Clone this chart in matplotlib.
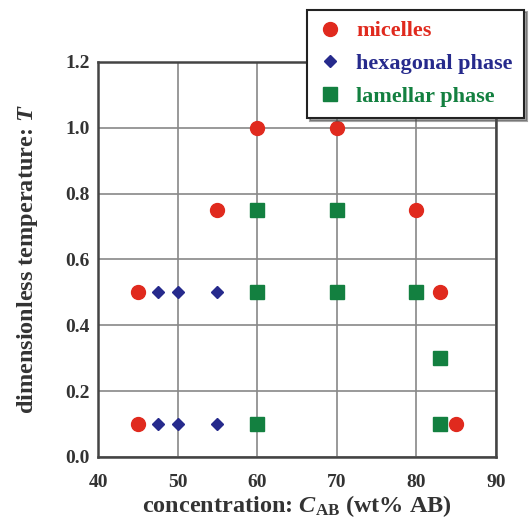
import matplotlib
matplotlib.use("Agg")
import matplotlib.pyplot as plt

# data
mic_c = [60, 70, 55, 80, 45, 83, 45, 85]
mic_t = [1.0, 1.0, 0.75, 0.75, 0.5, 0.5, 0.1, 0.1]

hex_c = [47.5, 50, 55, 47.5, 50, 55]
hex_t = [0.5, 0.5, 0.5, 0.1, 0.1, 0.1]

lam_c = [60, 70, 60, 70, 80, 83, 60, 83]
lam_t = [0.75, 0.75, 0.5, 0.5, 0.5, 0.3, 0.1, 0.1]

xticks = [40, 50, 60, 70, 80, 90]
yticks = [0.0, 0.2, 0.4, 0.6, 0.8, 1.0, 1.2]

plt.rcParams['font.family'] = ['Liberation Serif', 'DejaVu Serif']
plt.rcParams['font.weight'] = 'bold'
plt.rcParams['axes.labelweight'] = 'bold'
plt.rcParams['mathtext.fontset'] = 'custom'
plt.rcParams['mathtext.rm'] = 'Liberation Serif:bold'
plt.rcParams['mathtext.it'] = 'Liberation Serif:italic:bold'

txt = '#333333'
red = '#e02a1e'
blue = '#262a8c'
green = '#138040'

fig = plt.figure(figsize=(5.31, 5.23), dpi=100)
ax = fig.add_axes([0.1846, 0.1262, 0.7495, 0.7553])

ax.plot(mic_c, mic_t, 'o', color=red, markersize=10, label='micelles', zorder=3)
ax.plot(hex_c, hex_t, 'D', color=blue, markersize=6, label='hexagonal phase', zorder=3)
ax.plot(lam_c, lam_t, 's', color=green, markersize=10, label='lamellar phase', zorder=3)

ax.set_xlim(40, 90)
ax.set_ylim(0, 1.2)
ax.set_xticks(xticks)
ax.set_yticks(yticks)
ax.set_xticklabels([str(v) for v in xticks])
ax.set_yticklabels([f'{v:.1f}' for v in yticks])
ax.tick_params(length=0, labelsize=14, labelcolor=txt)
ax.tick_params(axis='x', pad=12)
ax.tick_params(axis='y', pad=6)
ax.grid(True, color='#888888', linewidth=1.2)
ax.set_axisbelow(True)
for s in ax.spines.values():
    s.set_linewidth(1.8)
    s.set_color('#444444')

ax.set_xlabel(r'concentration: $\mathit{C}_{\mathrm{AB}}$ (wt% AB)', fontsize=17.5, color=txt, labelpad=2)
ax.set_ylabel(r'dimensionless temperature: $\mathit{T}$', fontsize=17.5, color=txt, labelpad=18)

leg = fig.legend(loc='upper right', bbox_to_anchor=(0.995, 0.99), fontsize=16,
                 frameon=True, fancybox=False, shadow=True, borderpad=0.5,
                 labelspacing=0.55, handletextpad=0.7, handlelength=1.0,
                 borderaxespad=0.2)
leg.get_frame().set_edgecolor('#222222')
leg.get_frame().set_linewidth(1.5)
for t, c in zip(leg.get_texts(), [red, blue, green]):
    t.set_color(c)

fig.savefig('out.png', dpi=100)
